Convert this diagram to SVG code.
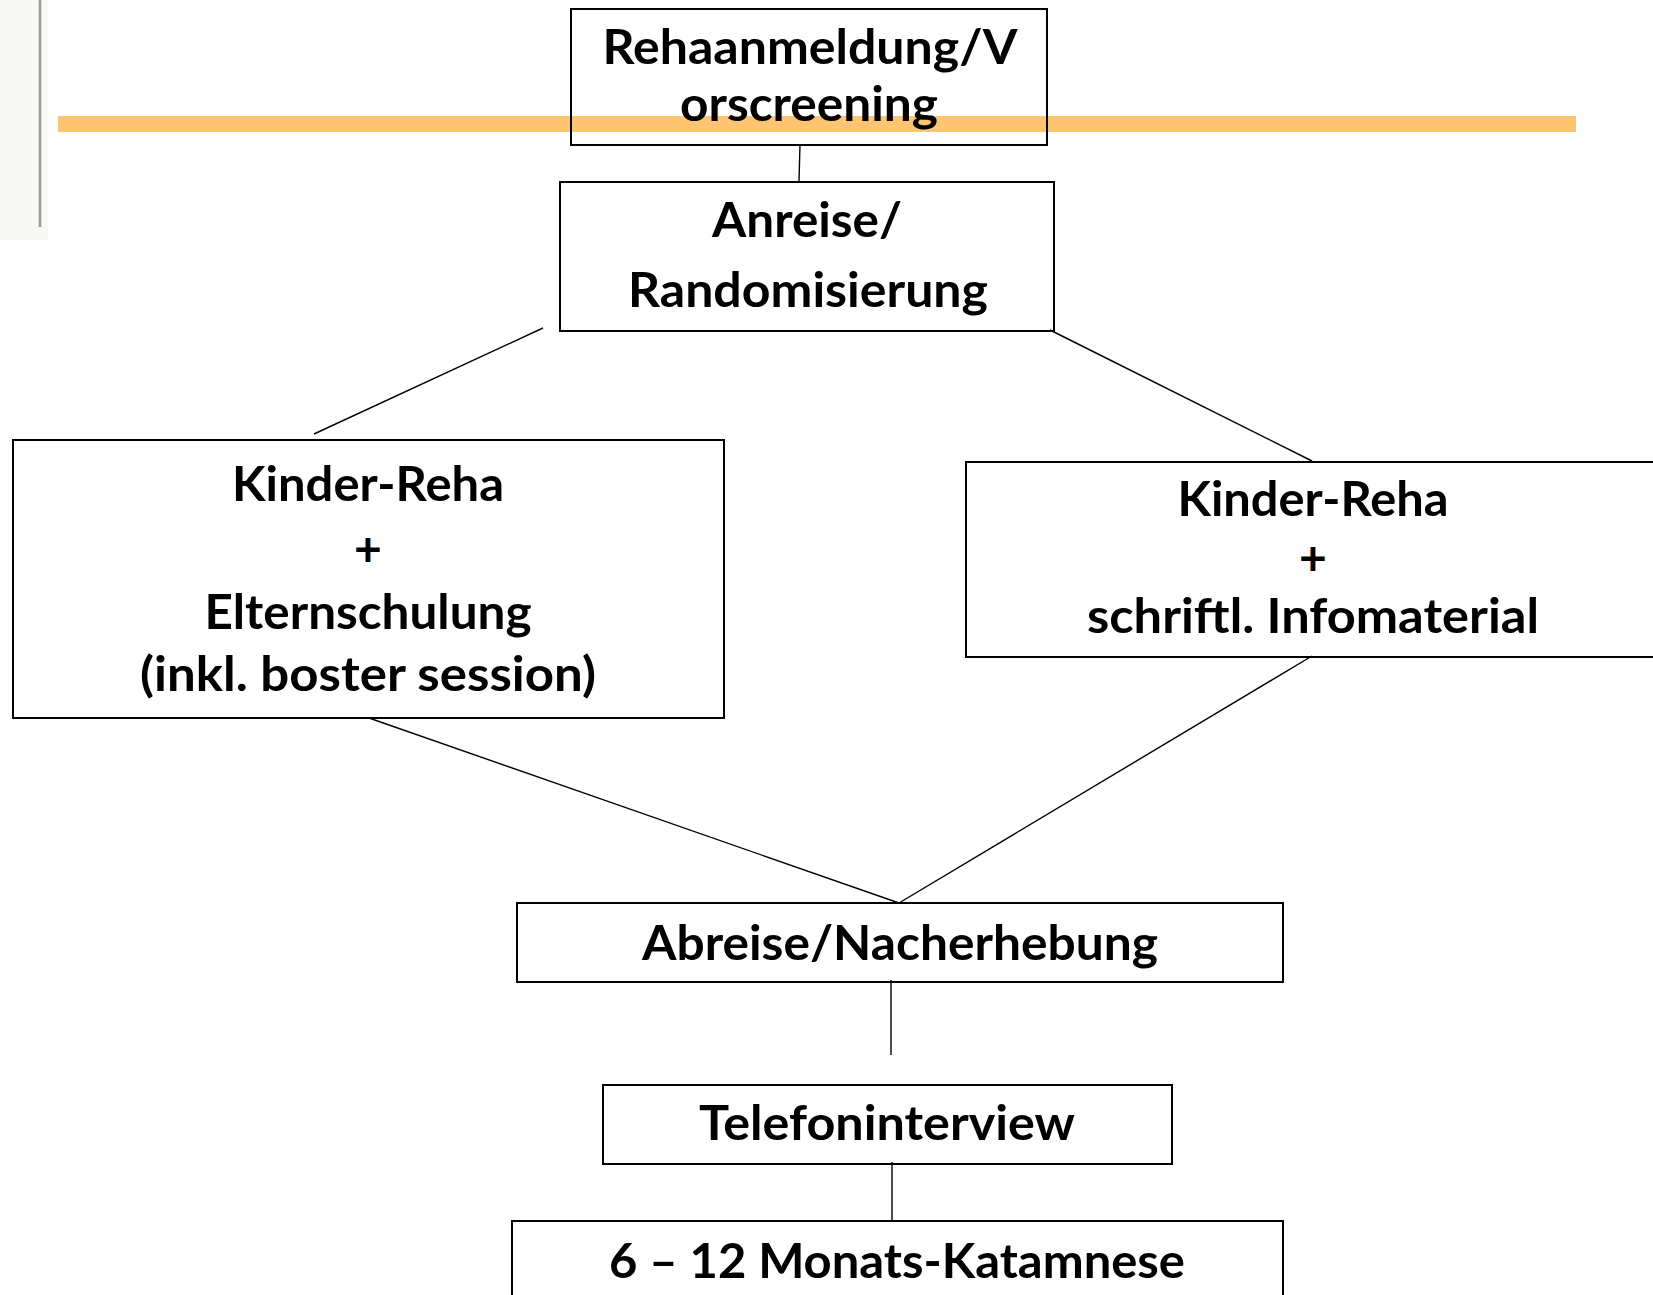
<svg xmlns="http://www.w3.org/2000/svg" width="1653" height="1295" viewBox="0 0 1653 1295">
<style>
.box{fill:none;stroke:#000;stroke-width:2}
.t{font-family:Lato,"Open Sans","Liberation Sans",sans-serif;font-weight:bold;font-size:48px;fill:#000;text-anchor:middle}
.c{stroke:#000;stroke-width:1.4;fill:none}
</style>
<rect x="0" y="0" width="1653" height="1295" fill="#fff"/>
<g id="decor">
<rect x="0" y="0" width="48" height="240" fill="#f7f7f3"/>
<line x1="40" y1="0" x2="40" y2="227" stroke="#9a9a9a" stroke-width="2.5"/>
<rect x="58" y="116" width="1518" height="16" fill="#fdc56f"/>
</g>
<g id="connectors">
<line class="c" x1="800" y1="144" x2="799" y2="181"/>
<line class="c" x1="543" y1="328" x2="314" y2="434"/>
<line class="c" x1="1050" y1="330" x2="1312" y2="461"/>
<line class="c" x1="369" y1="718" x2="899" y2="903"/>
<line class="c" x1="1312" y1="656" x2="899" y2="903"/>
<line class="c" x1="891" y1="980" x2="891" y2="1055"/>
<line class="c" x1="892" y1="1162" x2="892" y2="1221"/>
</g>
<g id="n1">
<rect class="box" x="571" y="9" width="476" height="136"/>
<text class="t" x="810" y="64" textLength="415" lengthAdjust="spacingAndGlyphs">Rehaanmeldung/V</text>
<text class="t" x="809" y="121" textLength="258" lengthAdjust="spacingAndGlyphs">orscreening</text>
</g>
<g id="n2">
<rect class="box" x="560" y="182" width="494" height="149" fill="#fff"/>
<text class="t" x="807" y="237" textLength="190" lengthAdjust="spacingAndGlyphs">Anreise/</text>
<text class="t" x="808" y="307" textLength="360" lengthAdjust="spacingAndGlyphs">Randomisierung</text>
</g>
<g id="n3">
<rect class="box" x="13" y="440" width="711" height="278"/>
<text class="t" x="368" y="501" textLength="272" lengthAdjust="spacingAndGlyphs">Kinder-Reha</text>
<text class="t" x="368" y="566">+</text>
<text class="t" x="368" y="629" textLength="327" lengthAdjust="spacingAndGlyphs">Elternschulung</text>
<text class="t" x="368" y="691" textLength="456" lengthAdjust="spacingAndGlyphs">(inkl. boster session)</text>
</g>
<g id="n4">
<rect class="box" x="966" y="462" width="694" height="195"/>
<text class="t" x="1313" y="516" textLength="271" lengthAdjust="spacingAndGlyphs">Kinder-Reha</text>
<text class="t" x="1313" y="575">+</text>
<text class="t" x="1313" y="633" textLength="452" lengthAdjust="spacingAndGlyphs">schriftl. Infomaterial</text>
</g>
<g id="n5">
<rect class="box" x="517" y="903" width="766" height="79"/>
<text class="t" x="900" y="960" textLength="516" lengthAdjust="spacingAndGlyphs">Abreise/Nacherhebung</text>
</g>
<g id="n6">
<rect class="box" x="603" y="1085" width="569" height="79"/>
<text class="t" x="887" y="1140" textLength="376" lengthAdjust="spacingAndGlyphs">Telefoninterview</text>
</g>
<g id="n7">
<rect class="box" x="512" y="1221" width="771" height="90"/>
<text class="t" x="897" y="1278" textLength="576" lengthAdjust="spacingAndGlyphs">6 – 12 Monats-Katamnese</text>
</g>
</svg>
